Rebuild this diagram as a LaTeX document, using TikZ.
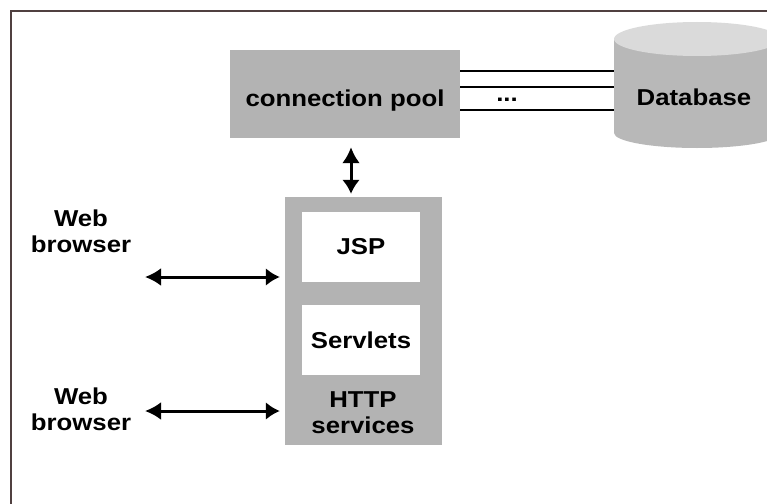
\documentclass[tikz,border=0pt]{standalone}
\usepackage{fontspec}
\setmainfont{Liberation Sans}[FakeStretch=1.12]
\usetikzlibrary{positioning,arrows.meta}
\definecolor{boxgray}{RGB}{179,179,179}
\definecolor{dbtop}{RGB}{218,218,218}
\definecolor{dbbody}{RGB}{184,184,184}
\definecolor{framebrown}{RGB}{80,64,64}

\begin{document}
\begin{tikzpicture}[
    x=1pt, y=-1pt,
    box/.style={rectangle, fill=boxgray, inner sep=0pt},
    inbox/.style={rectangle, fill=white, inner sep=0pt, minimum width=118pt, minimum height=70pt, font=\fontsize{23}{26}\selectfont\bfseries},
    txt/.style={align=center, inner sep=0pt, font=\fontsize{23}{26}\selectfont\bfseries},
    arrow/.style={{Latex[length=16pt,width=18pt]}-{Latex[length=14pt,width=18pt]}, line width=3pt},
    link/.style={line width=1.5pt},
]
\useasboundingbox (0,0) rectangle (767,503);

% Frame
\draw[framebrown, line width=2.5pt] (11,520) -- (11,11) -- (780,11);

% ====== Connection pool ======
\node[box, minimum width=230pt, minimum height=88pt] (pool) at (345,94) {};
\node[txt, anchor=base] (pooltext) at (345,106) {connection pool};

% ====== Database ======
\fill[dbbody] (614,39) -- (614,133) arc[start angle=180, end angle=0, x radius=83, y radius=15] -- (780,39) -- cycle;
\fill[dbtop] (697,39) ellipse[x radius=83, y radius=17];
\coordinate (dbwall) at (614,39);
\node[txt, anchor=base] (db) at (694,105) {Database};

\draw[link] (pool.east |- 0,71) -- (dbwall |- 0,71);
\draw[link] (pool.east |- 0,87) -- (dbwall |- 0,87);
\draw[link] (pool.east |- 0,110) -- (dbwall |- 0,110);
\node[txt, anchor=base] (dots) at (507,101) {...};

% ====== HTTP services ======
\node[box, minimum width=157pt, minimum height=248pt] (http) at (363.5,321) {};
\node[inbox] (jsp) at (361,247) {JSP};
\node[inbox] (servlets) at (361,340) {Servlets};
\node[txt] (httplabel) at (363,413) {HTTP\\services};

\draw[arrow, shorten <=9pt, shorten >=3pt] ([xshift=6pt]pool.south) -- ([xshift=6pt]pool.south |- http.north);

% ====== Browsers ======
\node[txt] (web1) at (81,231.5) {Web\\browser};
\node[txt] (web2) at (81,409.6) {Web\\browser};
\coordinate (b1) at (145,277);
\coordinate (b2) at (145,411);

\draw[arrow, shorten >=5pt] (b1) -- (b1 -| http.west);
\draw[arrow, shorten >=5pt] (b2) -- (b2 -| http.west);

\end{tikzpicture}
\end{document}
